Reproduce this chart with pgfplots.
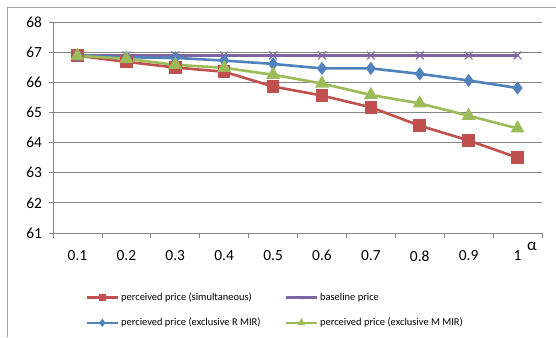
\documentclass[border=0pt]{standalone}
\usepackage{pgfplots}
\pgfplotsset{compat=1.18}
\usepackage{fontspec}
\setmainfont{Carlito}

\definecolor{sred}{RGB}{192,80,77}
\definecolor{sblue}{RGB}{79,129,189}
\definecolor{sgreen}{RGB}{155,187,89}
\definecolor{spurple}{RGB}{128,100,162}
\definecolor{gridgray}{RGB}{134,134,134}
\definecolor{framegray}{RGB}{165,165,165}

\begin{document}
\begin{tikzpicture}[x=1bp,y=1bp]
\path[use as bounding box] (0,0) rectangle (556,337);
% chart area frame
\draw[framegray, line width=0.8bp] (7,0) -- (7,330) -- (556,330);
\begin{axis}[
  at={(53bp,104bp)}, anchor=south west,
  scale only axis, width=489bp, height=211bp,
  xmin=0.5, xmax=10.5, ymin=61, ymax=68,
  xtick={1,...,10},
  xticklabels={0.1,0.2,0.3,0.4,0.5,0.6,0.7,0.8,0.9,1},
  minor xtick={0.5,1.5,...,10.5},
  major x tick style={draw=none},
  ytick={61,...,68},
  ymajorgrids, grid style={gridgray, line width=0.8bp},
  axis x line*=bottom, axis y line*=left,
  axis line style={gridgray, line width=0.8bp, -},
  tick align=outside,
  tick style={gridgray, line width=0.8bp},
  major tick length=4bp, minor tick length=5bp,
  tick label style={font=\fontsize{15.5}{17}\selectfont, text=black},
  /pgf/number format/assume math mode=true,
  xticklabel style={yshift=-10bp},
  yticklabel style={xshift=-3.5bp},
  legend columns=2,
  legend style={
    draw=none, fill=none,
    at={(0.06,-0.265)}, anchor=north west,
    font=\fontsize{10.5}{12}\selectfont,
    row sep=12bp,
    /tikz/every even column/.append style={column sep=22bp},
  },
  legend cell align=left,
  legend image code/.code={
    \draw[#1, mark size=2bp, mark repeat=2, mark phase=2]
      plot coordinates {(0bp,0bp) (15.5bp,0bp) (31bp,0bp)};
  },
]
\addplot[sred, line width=2.6bp, mark=square*, mark size=5bp, mark options={solid}]
  coordinates {(1,66.88) (2,66.68) (3,66.49) (4,66.35) (5,65.86) (6,65.56) (7,65.17) (8,64.56) (9,64.07) (10,63.50)};
\addlegendentry{perceived price (simultaneous)}
\addplot[spurple, line width=2.6bp, mark=x, mark size=5.5bp, mark options={line width=1.1bp}]
  coordinates {(1,66.89) (2,66.89) (3,66.89) (4,66.89) (5,66.89) (6,66.89) (7,66.89) (8,66.89) (9,66.89) (10,66.89)};
\addlegendentry{baseline price}
\addplot[sblue, line width=2.6bp, mark=diamond*, mark size=4.5bp]
  coordinates {(1,66.89) (2,66.83) (3,66.81) (4,66.72) (5,66.61) (6,66.46) (7,66.46) (8,66.28) (9,66.06) (10,65.81)};
\addlegendentry{percieved price (exclusive R MIR)}
\addplot[sgreen, line width=2.6bp, mark=triangle*, mark size=5.5bp]
  coordinates {(1,66.88) (2,66.78) (3,66.58) (4,66.48) (5,66.25) (6,65.96) (7,65.58) (8,65.30) (9,64.89) (10,64.47)};
\addlegendentry{perceived price (exclusive M MIR)}
\end{axis}
% horizontal axis name
\node[font=\fontsize{17}{19}\selectfont] at (532,91) {α};
\end{tikzpicture}
\end{document}
